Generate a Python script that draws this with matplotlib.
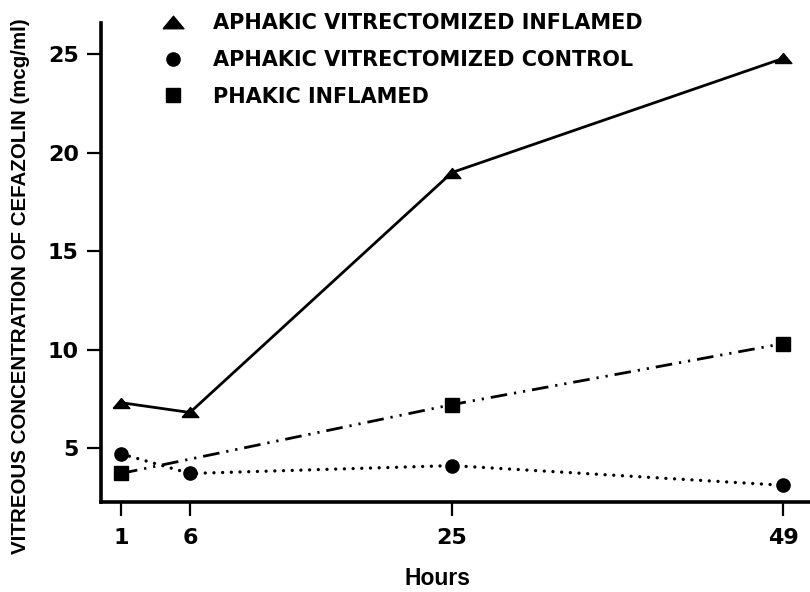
import matplotlib.pyplot as plt
import matplotlib as mpl
from matplotlib.lines import Line2D

# data
hours = [1, 6, 25, 49]
inflamed = [7.3, 6.8, 19.0, 24.8]        # aphakic vitrectomized inflamed
control = [4.7, 3.7, 4.1, 3.1]           # aphakic vitrectomized control
phakic_hours = [1, 25, 49]
phakic = [3.7, 7.2, 10.3]                # phakic inflamed

labels = ['APHAKIC VITRECTOMIZED INFLAMED',
          'APHAKIC VITRECTOMIZED CONTROL',
          'PHAKIC INFLAMED']
yticks = [5, 10, 15, 20, 25]

mpl.rcParams['font.family'] = ['DejaVu Sans']
mpl.rcParams['font.weight'] = 'bold'

# flat triangle like the original
tri = [(-1, -0.6), (1, -0.6), (0, 0.6), (-1, -0.6)]

fig = plt.figure(figsize=(8.1, 5.92), dpi=100)
ax = fig.add_axes([101 / 810, 1 - 502 / 592, 1 - 101 / 810, (502 - 23) / 592])

lw = 2.0
ax.plot(hours, inflamed, color='black', lw=lw, marker=tri, ms=12, clip_on=False)
ax.plot(hours, control, color='black', lw=2.4, linestyle=(0, (0.01, 2.6)),
        dash_capstyle='round', marker='o', ms=9.5, clip_on=False)
ax.plot(phakic_hours, phakic, color='black', lw=lw,
        dashes=[6, 2.5, 0.8, 2.5, 0.8, 2.5], marker='s', ms=9.5, clip_on=False)

ax.set_xlim(-0.45, 50.96)
ax.set_ylim(2.25, 26.6)
ax.set_xticks(hours)
ax.set_yticks(yticks)

for s in ['top', 'right']:
    ax.spines[s].set_visible(False)
for s in ['left', 'bottom']:
    ax.spines[s].set_linewidth(2.6)

ax.tick_params(axis='both', width=1.6, length=10, labelsize=16)
ax.tick_params(axis='x', pad=9)
ax.tick_params(axis='y', pad=6)

ax.set_xlabel('Hours', fontsize=16.5, fontweight='bold',
              family=['Liberation Sans', 'DejaVu Sans'])
ax.xaxis.set_label_coords(0.475, -0.135)
ax.set_ylabel('VITREOUS CONCENTRATION OF CEFAZOLIN (mcg/ml)', fontsize=14.8,
              fontweight='bold', family=['Liberation Sans', 'DejaVu Sans'])
ax.yaxis.set_label_coords(-0.1, 0.45)

handles = [Line2D([], [], color='black', marker=m, ms=ms, linestyle='none')
           for m, ms in [(tri, 15), ('o', 9.5), ('s', 9.5)]]
fig.legend(handles, labels, loc='upper left', bbox_to_anchor=(152 / 810, 1 - 3 / 592),
           frameon=False, borderpad=0, handlelength=1.0, handletextpad=1.42,
           labelspacing=0.8, prop={'size': 15, 'weight': 'bold'})

fig.savefig('out.png', dpi=100)
